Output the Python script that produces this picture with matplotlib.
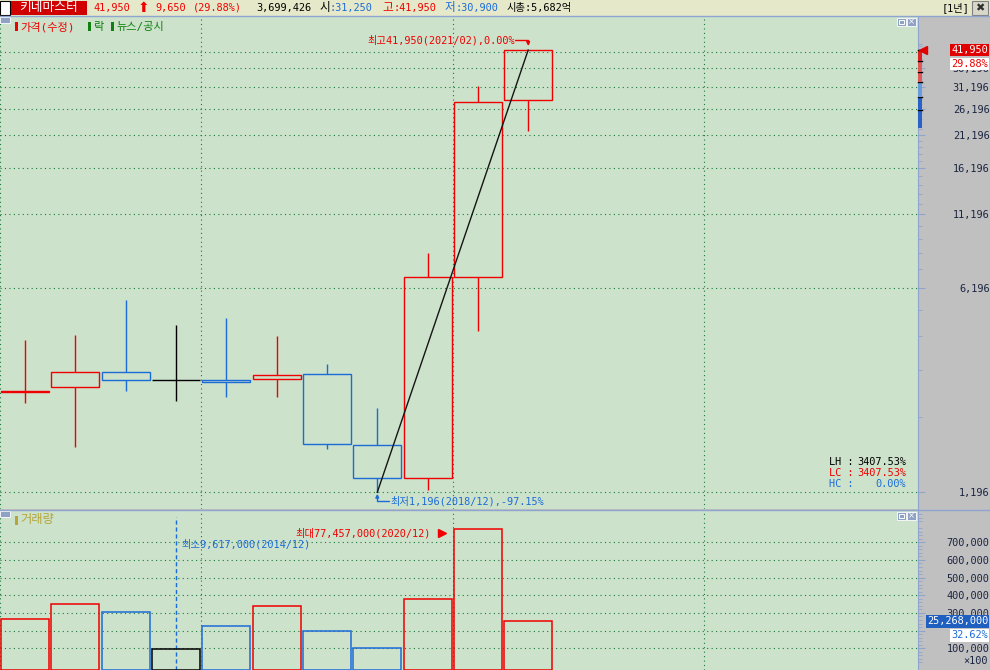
import numpy as np
import matplotlib.pyplot as plt
import matplotlib.transforms as mtrans
from matplotlib.patches import Rectangle
from matplotlib.ticker import FixedLocator, NullFormatter

plt.rcParams['font.family'] = ['DejaVu Sans Mono', 'Noto Sans CJK KR']

# 연봉 (1년 단위) 데이터
years = [2011, 2012, 2013, 2014, 2015, 2016, 2017, 2018, 2019, 2020, 2021]
opens = [2680, 2790, 3150, 2952, 2952, 2976, 3098, 1750, 1342, 6740, 28080]
highs = [4070, 4240, 5620, 4595, 4861, 4206, 3357, 2357, 8201, 31430, 41950]
lows = [2453, 1722, 2702, 2493, 2574, 2574, 1694, 1196, 1218, 4379, 21890]
closes = [2700, 3150, 2952, 2952, 2905, 3073, 1764, 1342, 6740, 27630, 41950]
volumes = [26760000, 35140000, 30670000, 9617000, 22850000, 34020000,
           20060000, 9900000, 37930000, 77457000, 25268000]

price_ticks = [1196 + 5000 * k for k in range(9)]
price_minor = [1196 + 1000 * k for k in range(1, 44) if k % 5]
vol_ticks = [10000000 * k for k in range(1, 8)]
vol_minor = [2000000 * k for k in range(0, 45) if k % 5]
vgrid = [2010.5, 2014.5, 2019.5, 2024.5]
# 오른쪽 현재값 상자에 완전히 가려지는 눈금 라벨
hidden_price = [41196]
hidden_vol = [20000000]

# 헤더 정보
name = '키네마스터'
header_price = '41,950'
header_diff = '9,650'
header_rate = '(29.88%)'
header_vol = '3,699,426'
day_open, day_high, day_low = '31,250', '41,950', '30,900'
mcap = '시총:5,682억'
day_rate = '29.88%'
vol_rate = '32.62%'

FS = 7.4
FSK = 8.4
RED = '#F00000'
BLUE = '#1C6CD8'
BG = '#CCE2CB'
GRID = '#1A7A3A'
AXIS = '#8FA5CF'
LABEL = '#1C2541'
W, H = 990, 670


def fx(px):
    return px / W


def fy(py):
    return 1 - py / H


def candle_color(i):
    if closes[i] > opens[i]:
        return RED
    if closes[i] < opens[i]:
        return BLUE
    if i == 0 or closes[i] > closes[i - 1]:
        return RED
    return 'black'


colors = [candle_color(i) for i in range(len(years))]

fig = plt.figure(figsize=(9.9, 6.7), dpi=100, facecolor='#C0C0C0')

# 헤더 바
fig.add_artist(Rectangle((0, fy(16)), 1, 16 / H, transform=fig.transFigure,
                         facecolor='#E6E9C9', edgecolor='none'))
fig.add_artist(Rectangle((fx(0), fy(15)), fx(10), 14 / H, transform=fig.transFigure,
                         facecolor='white', edgecolor='black', lw=0.8))
fig.add_artist(Rectangle((fx(11), fy(15)), fx(76), 14 / H, transform=fig.transFigure,
                         facecolor='#D00000', edgecolor='none'))
fig.text(fx(49), fy(8), name, color='white', fontsize=9.2, ha='center', va='center')
fig.text(fx(93), fy(8), header_price, color=RED, fontsize=FS, va='center')
fig.text(fx(138), fy(8), '⬆', color=RED, fontsize=10, va='center', family='DejaVu Sans')
fig.text(fx(155), fy(8), header_diff, color=RED, fontsize=FS, va='center')
fig.text(fx(193), fy(8), header_rate, color=RED, fontsize=FS, va='center')
fig.text(fx(256), fy(8), header_vol, color='black', fontsize=FS, va='center')
fig.text(fx(319), fy(8), '시', color='black', fontsize=FSK, va='center')
fig.text(fx(330), fy(8), ':' + day_open, color=BLUE, fontsize=FS, va='center')
fig.text(fx(382), fy(8), '고', color=RED, fontsize=FSK, va='center')
fig.text(fx(393), fy(8), ':' + day_high, color=RED, fontsize=FS, va='center')
fig.text(fx(445), fy(8), '저', color=BLUE, fontsize=FSK, va='center')
fig.text(fx(456), fy(8), ':' + day_low, color=BLUE, fontsize=FS, va='center')
fig.text(fx(507), fy(8), mcap, color='black', fontsize=FS, va='center')
fig.text(fx(970), fy(8), '[1년]', color='black', fontsize=FS, va='center', ha='right')
fig.add_artist(Rectangle((fx(972), fy(15)), fx(16), 14 / H, transform=fig.transFigure,
                         facecolor='#D8D8C8', edgecolor='#808080', lw=0.8))
fig.text(fx(980), fy(8), '✖', color='#303030', fontsize=8, va='center', ha='center',
         family='DejaVu Sans', fontweight='bold')

# 가격 패널
ax = fig.add_axes([0, fy(509), fx(918), (509 - 16) / H])
ax.set_facecolor(BG)
ax.set_yscale('log')
ax.set_xlim(2010.5, 2028.75)
ax.set_ylim(1046, 55190)
for s in ['top', 'left', 'bottom']:
    ax.spines[s].set_visible(False)
ax.spines['right'].set_color(AXIS)
ax.yaxis.tick_right()
ax.set_yticks(price_ticks,
              labels=['' if v in hidden_price else f'{v:,}' for v in price_ticks])
ax.yaxis.set_minor_locator(FixedLocator(price_minor))
ax.yaxis.set_minor_formatter(NullFormatter())
ax.tick_params(axis='y', which='major', length=5, color=AXIS, labelcolor=LABEL,
               labelsize=FS, pad=46.5)
ax.tick_params(axis='y', which='minor', length=3, color=AXIS)
for t in ax.get_yticklabels():
    t.set_ha('right')
ax.set_xticks(vgrid)
ax.tick_params(axis='x', length=0, labelbottom=False)
ax.grid(True, color=GRID, linestyle=(0, (1, 3)), linewidth=0.8)
ax.set_axisbelow(True)

bw = 0.955
for i, x in enumerate(years):
    o, h, l, c = opens[i], highs[i], lows[i], closes[i]
    top, bot = max(o, c), min(o, c)
    ax.add_patch(Rectangle((x - bw / 2, bot), bw, top - bot, fill=False,
                           edgecolor=colors[i], lw=1.0, zorder=3))
    ax.vlines(x, top, h, color=colors[i], lw=1.0, zorder=3)
    ax.vlines(x, l, bot, color=colors[i], lw=1.0, zorder=3)

imin = int(np.argmin(lows))
imax = int(np.argmax(highs))
lo, hi, last = lows[imin], highs[imax], closes[-1]
ax.plot([years[imin], years[imax]], [lo, hi], color='#151515', lw=1.0, zorder=4)

hc = (last - hi) / hi * 100
lpct = (lo - last) / last * 100
ax.annotate(f'최고{hi:,}({years[imax]}/02),{hc:.2f}%', xy=(years[imax], hi),
            xytext=(-13, 10), textcoords='offset pixels', ha='right', va='center',
            color=RED, fontsize=FS)
ax.annotate('', xy=(years[imax], hi), xytext=(-13, 10), textcoords='offset pixels',
            arrowprops=dict(arrowstyle='-|>', color=RED, lw=1, shrinkA=0, shrinkB=3,
                            mutation_scale=5,
                            connectionstyle='angle,angleA=0,angleB=90,rad=0'))
ax.annotate(f'최저{lo:,}({years[imin]}/12),{lpct:.2f}%', xy=(years[imin], lo),
            xytext=(13, -9), textcoords='offset pixels', ha='left', va='center',
            color=BLUE, fontsize=FS)
ax.annotate('', xy=(years[imin], lo), xytext=(12, -9), textcoords='offset pixels',
            arrowprops=dict(arrowstyle='-|>', color=BLUE, lw=1, shrinkA=0, shrinkB=1,
                            mutation_scale=5,
                            connectionstyle='angle,angleA=0,angleB=90,rad=0'))

# 최근 가격 표시
ax.annotate(f'{last:,}', xy=(1, last), xycoords=('axes fraction', 'data'),
            xytext=(70, 0), textcoords='offset pixels', ha='right', va='center',
            color='white', fontsize=FS, zorder=6,
            bbox=dict(boxstyle='square,pad=0.12', fc='#E00000', ec='none'))
ax.annotate(day_rate, xy=(1, last), xycoords=('axes fraction', 'data'),
            xytext=(70, -14), textcoords='offset pixels', ha='right', va='center',
            color=RED, fontsize=FS, zorder=6,
            bbox=dict(boxstyle='square,pad=0.12', fc='white', ec='none'))
side = mtrans.blended_transform_factory(ax.transAxes, ax.transData)
band = [22470, 25900, 28840, 32460, 35180, 38510, hi]
band_c = ['#2862C8', '#2862C8', '#6A9BDB', '#E05A5A', '#E05A5A', '#E02020']
for k in range(len(band_c)):
    ax.add_patch(Rectangle((1.0, band[k]), 4 / 918, band[k + 1] - band[k],
                           transform=side, facecolor=band_c[k], edgecolor='none',
                           clip_on=False, zorder=5))
    ax.plot([1.0, 1.0 + 4 / 918], [band[k + 1]] * 2, transform=side, color='black',
            lw=1, clip_on=False, zorder=5)
flag = side + mtrans.ScaledTranslation(5 / 100, 0, fig.dpi_scale_trans)
ax.plot([1.0], [last], marker='<', color='#E00000', markersize=6, transform=flag,
        clip_on=False, zorder=6)

# LH / LC / HC
lh = (hi - lo) / lo * 100
lc = (last - lo) / lo * 100
for k, (lab, val, col) in enumerate([('LH :', lh, 'black'), ('LC :', lc, RED),
                                     ('HC :', hc, BLUE)]):
    fig.text(fx(829), fy(462 + 11 * k), lab, color=col, fontsize=FS, va='center')
    fig.text(fx(906), fy(462 + 11 * k), f'{val:.2f}%', color=col, fontsize=FS,
             va='center', ha='right')

# 범례
for px, col, txt in [(15, RED, '가격(수정)'), (88, '#108010', '락'),
                     (111, '#108010', '뉴스/공시')]:
    fig.add_artist(Rectangle((fx(px), fy(31)), fx(2.5), 9 / H, transform=fig.transFigure,
                             facecolor=col, edgecolor='none'))
    fig.text(fx(px + 5), fy(27), txt, color=col, fontsize=8.0, va='center')

# 거래량 패널
vlo = -2280000
ax2 = fig.add_axes([0, 0, fx(918), 160 / H])
ax2.set_facecolor(BG)
ax2.set_xlim(2010.5, 2028.75)
ax2.set_ylim(vlo, 88270000)
for s in ['top', 'left', 'bottom']:
    ax2.spines[s].set_visible(False)
ax2.spines['right'].set_color(AXIS)
ax2.yaxis.tick_right()
ax2.set_yticks(vol_ticks,
               labels=['' if v in hidden_vol else f'{v // 100:,}' for v in vol_ticks])
ax2.yaxis.set_minor_locator(FixedLocator(vol_minor))
ax2.tick_params(axis='y', which='major', length=5, color=AXIS, labelcolor=LABEL,
                labelsize=FS, pad=46.5)
ax2.tick_params(axis='y', which='minor', length=3, color=AXIS)
for t in ax2.get_yticklabels():
    t.set_ha('right')
ax2.set_xticks(vgrid)
ax2.tick_params(axis='x', length=0, labelbottom=False)
ax2.grid(True, color=GRID, linestyle=(0, (1, 3)), linewidth=0.8)
ax2.set_axisbelow(True)

ax2.bar(years, [v - vlo for v in volumes], bottom=vlo, width=bw, fill=False,
        edgecolor=colors, lw=1.1, zorder=3)

vmax_i = int(np.argmax(volumes))
vmin_i = int(np.argmin(volumes))
ax2.annotate(f'최대{volumes[vmax_i]:,}({years[vmax_i]}/12)', xy=(years[vmax_i], volumes[vmax_i]),
             xytext=(-47, -4), textcoords='offset pixels', ha='right', va='center',
             color=RED, fontsize=FS)
tri = ax2.transData + mtrans.ScaledTranslation(-36 / 100, -4 / 100, fig.dpi_scale_trans)
ax2.plot([years[vmax_i]], [volumes[vmax_i]], marker='>', color=RED, markersize=6,
         transform=tri, clip_on=False)
ax2.axvline(years[vmin_i], ymax=0.955, color=BLUE, linestyle=(0, (3, 2)), lw=1)
low_lab = mtrans.blended_transform_factory(ax2.transData, ax2.transAxes)
ax2.annotate(f'최소{volumes[vmin_i]:,}({years[vmin_i]}/12)', xy=(years[vmin_i], 0.785),
             xycoords=low_lab, xytext=(5, 0), textcoords='offset pixels', ha='left',
             va='center', color=BLUE, fontsize=FS)

ax2.annotate(f'{volumes[-1]:,}', xy=(1, volumes[-1]), xycoords=('axes fraction', 'data'),
             xytext=(70, 0), textcoords='offset pixels', ha='right', va='center',
             color='white', fontsize=FS, zorder=6,
             bbox=dict(boxstyle='square,pad=0.12', fc='#1E5FC0', ec='none'))
ax2.annotate(vol_rate, xy=(1, volumes[-1]), xycoords=('axes fraction', 'data'),
             xytext=(70, -14), textcoords='offset pixels', ha='right', va='center',
             color=BLUE, fontsize=FS, zorder=6,
             bbox=dict(boxstyle='square,pad=0.12', fc='white', ec='none'))
fig.text(fx(988), fy(661), '×100', color=LABEL, fontsize=FS, ha='right', va='center')

fig.add_artist(Rectangle((fx(15), fy(525)), fx(2.5), 9 / H, transform=fig.transFigure,
                         facecolor='#B5A53A', edgecolor='none'))
fig.text(fx(20), fy(520), '거래량', color='#B5A53A', fontsize=FSK + 0.4, va='center')

# 패널 구분선과 아이콘
fig.add_artist(plt.Line2D([0, 1], [fy(16), fy(16)], color=AXIS, lw=1))
fig.add_artist(plt.Line2D([0, 1], [fy(509.5), fy(509.5)], color=AXIS, lw=1))
for top in [17, 511]:
    fig.add_artist(Rectangle((fx(0), fy(top + 6)), fx(10), 6 / H, transform=fig.transFigure,
                             facecolor='#8FA2C4', edgecolor='white', lw=0.6))
    for bx in [897, 907]:
        fig.add_artist(Rectangle((fx(bx), fy(top + 9)), fx(9), 8 / H,
                                 transform=fig.transFigure, facecolor='#8FA2C4',
                                 edgecolor='white', lw=0.6))
    fig.add_artist(Rectangle((fx(899), fy(top + 7)), fx(5), 4 / H, transform=fig.transFigure,
                             facecolor='none', edgecolor='white', lw=0.7))
    fig.text(fx(911.5), fy(top + 5), '×', color='white', fontsize=6, ha='center',
             va='center', family='DejaVu Sans')

fig.savefig('out.png', dpi=100, facecolor=fig.get_facecolor())
